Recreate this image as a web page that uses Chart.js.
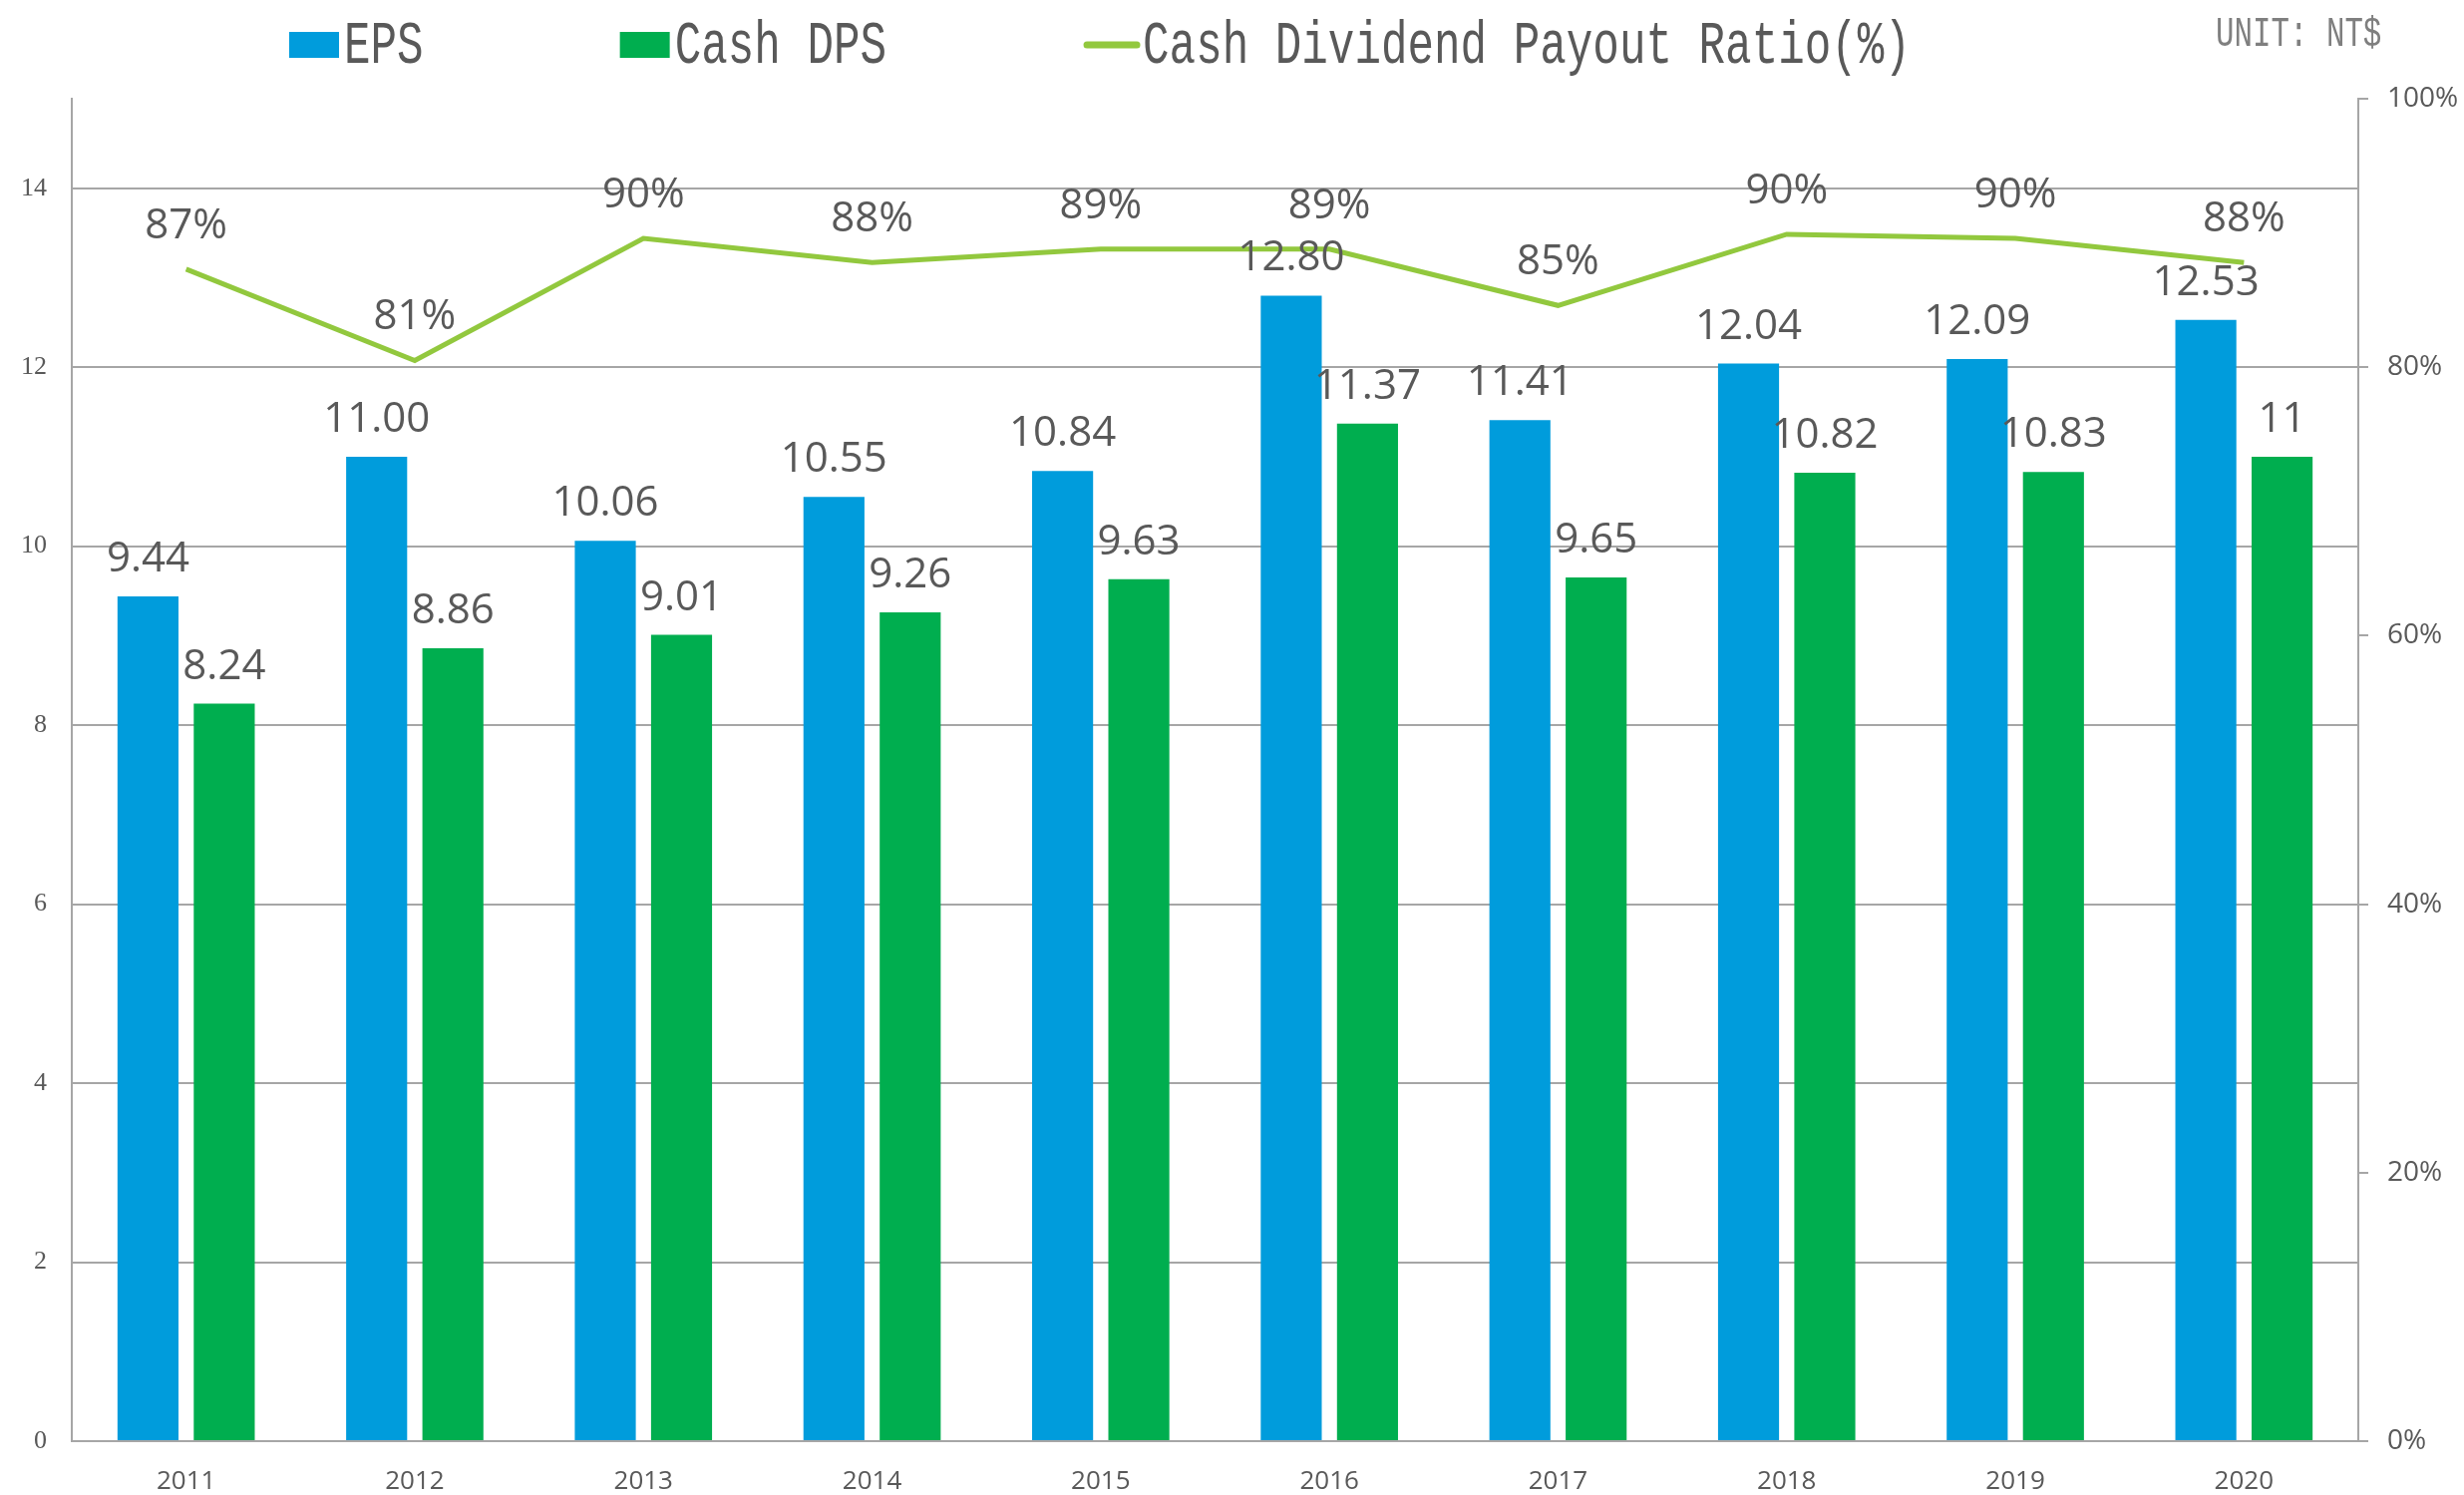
<!DOCTYPE html>
<html>
<head>
<meta charset="utf-8">
<script src="https://cdn.jsdelivr.net/npm/chart.js@4"></script>
<style>
  body { margin:0; background:#fff; }
</style>
</head>
<body>
<canvas id="epsChart" width="2471" height="1499"></canvas>
<script>
const years = ['2011','2012','2013','2014','2015','2016','2017','2018','2019','2020'];
const eps = [9.44, 11.00, 10.06, 10.55, 10.84, 12.80, 11.41, 12.04, 12.09, 12.53];
const cashDps = [8.24, 8.86, 9.01, 9.26, 9.63, 11.37, 9.65, 10.82, 10.83, 11];
const payoutRatio = [87.3, 80.5, 89.6, 87.8, 88.8, 88.8, 84.6, 89.9, 89.6, 87.8];
const leftTicksMax = 15;
const rightTicksMax = 100;

const GRAY = '#A6A6A6';
const TEXT = '#595959';

// values over bars and line
const valueLabels = {
  id:'valueLabels',
  afterDatasetsDraw(chart){
    const ctx = chart.ctx;
    ctx.save();
    ctx.font = '42px "Open Sans"';
    ctx.fillStyle = TEXT;
    ctx.textAlign = 'center';
    ctx.textBaseline = 'alphabetic';
    chart.data.datasets.forEach((ds, i) => {
      const meta = chart.getDatasetMeta(i);
      meta.data.forEach((el, j) => {
        const v = ds.data[j];
        let txt, y;
        if(ds.type === 'line'){
          txt = Math.round(v) + '%';
          y = el.y - 31;
        } else {
          txt = (ds.label === 'Cash DPS' && Number.isInteger(v)) ? String(v) : v.toFixed(2);
          y = el.y - 25;
        }
        ctx.fillText(txt, el.x, y);
      });
    });
    ctx.restore();
  }
};

// legend + unit note, narrow font like the original
const topLegend = {
  id:'topLegend',
  afterDraw(chart){
    const ctx = chart.ctx;
    const sx = 0.79;
    ctx.save();
    ctx.font = '56px "Liberation Mono"';
    ctx.textBaseline = 'middle';
    ctx.textAlign = 'left';
    let x = 290;
    const y = 45;
    const order = [1, 2, 0];
    order.forEach(i => {
      const ds = chart.data.datasets[i];
      if(ds.type === 'line'){
        ctx.strokeStyle = ds.borderColor;
        ctx.lineWidth = 7;
        ctx.lineCap = 'round';
        ctx.beginPath();
        ctx.moveTo(x + 4, y);
        ctx.lineTo(x + 54, y);
        ctx.stroke();
        x += 60;
      } else {
        ctx.fillStyle = ds.backgroundColor;
        ctx.fillRect(x, y - 13, 50, 26);
        x += 55;
      }
      ctx.fillStyle = TEXT;
      ctx.save();
      ctx.translate(x, y + 2);
      ctx.scale(sx, 1.08);
      ctx.fillText(ds.label, 0, 0);
      ctx.restore();
      x += ctx.measureText(ds.label).width * sx + 197;
    });

    ctx.font = '40px "Liberation Mono"';
    ctx.fillStyle = '#7F7F7F';
    ctx.save();
    ctx.translate(2222, 35);
    ctx.scale(0.77, 1.05);
    ctx.fillText('UNIT: NT$', 0, 0);
    ctx.restore();
    ctx.restore();
  }
};

const chart = new Chart(
  document.getElementById('epsChart'),
  {
    data:{
      labels:years,
      datasets:[
        {
          type:'line',
          label:'Cash Dividend Payout Ratio(%)',
          data:payoutRatio,
          yAxisID:'y2',
          borderColor:'#92C83E',
          borderWidth:5,
          pointRadius:0,
          tension:0,
          order:0
        },
        {
          type:'bar',
          label:'EPS',
          data:eps,
          yAxisID:'y',
          backgroundColor:'#009CDC',
          categoryPercentage:0.667,
          barPercentage:0.8,
          order:1
        },
        {
          type:'bar',
          label:'Cash DPS',
          data:cashDps,
          yAxisID:'y',
          backgroundColor:'#00AE4F',
          categoryPercentage:0.667,
          barPercentage:0.8,
          order:1
        }
      ]
    },
    options:{
      responsive:false,
      devicePixelRatio:1,
      animation:false,
      layout:{ padding:{ top:99, left:0, right:0, bottom:0 } },
      plugins:{
        legend:{ display:false },
        tooltip:{ enabled:false }
      },
      scales:{
        x:{
          grid:{ display:false },
          border:{ display:true, color:GRAY, width:2 },
          ticks:{ color:TEXT, font:{ family:'"Open Sans"', size:26 }, padding:17 },
          afterFit(s){ s.height = 54; }
        },
        y:{
          position:'left',
          min:0,
          max:leftTicksMax,
          grid:{ color:GRAY, lineWidth:2, drawTicks:false },
          border:{ display:true, color:GRAY, width:2 },
          ticks:{
            stepSize:2,
            includeBounds:false,
            color:TEXT,
            padding:25,
            font:{ family:'Liberation Serif', size:26 }
          },
          afterFit(s){ s.width = 72; }
        },
        y2:{
          position:'right',
          min:0,
          max:rightTicksMax,
          grid:{ drawOnChartArea:false, color:GRAY, lineWidth:2, tickLength:10 },
          border:{ display:true, color:GRAY, width:2 },
          ticks:{
            stepSize:20,
            color:TEXT,
            padding:19,
            font:{ family:'"Open Sans"', size:28 },
            callback:v => v + '%'
          },
          afterFit(s){ s.width = 106; }
        }
      }
    },
    plugins:[valueLabels, topLegend]
  }
);
</script>
</body>
</html>
